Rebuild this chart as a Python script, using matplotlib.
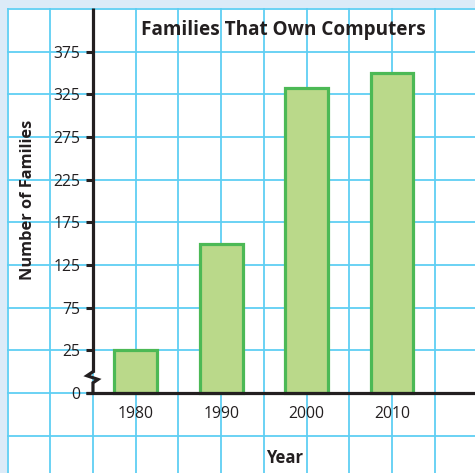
import numpy as np
import matplotlib
matplotlib.use("Agg")
import matplotlib.pyplot as plt

# Data
years = ["1980", "1990", "2000", "2010"]
families = [25, 150, 332, 350]
y_ticks = [0, 25, 75, 125, 175, 225, 275, 325, 375]

title = "Families That Own Computers"
x_label = "Year"
y_label = "Number of Families"

# Styling
GRID = "#5fcff3"
BAR_FACE = "#bad98a"
BAR_EDGE = "#4cb955"
INK = "#231f20"
BORDER = "#dcebf8"
FONT = "Open Sans"

plt.rcParams["font.family"] = [FONT, "DejaVu Sans"]


# Broken y axis: 0..25 takes one grid cell, then 50 per cell above 25
def fwd(v):
    v = np.asarray(v, dtype=float)
    return np.where(v < 25, v / 25.0, 1 + (v - 25) / 50.0)


def inv(p):
    p = np.asarray(p, dtype=float)
    return np.where(p < 1, p * 25.0, 25 + (p - 1) * 50.0)


W, H = 475, 473
fig = plt.figure(figsize=(W / 100, H / 100), dpi=100, facecolor=BORDER)
left_px, top_px = 6.5, 8.0
ax = fig.add_axes([left_px / W, 0, 1 - left_px / W, (H - top_px) / H])
ax.set_facecolor("white")

cell = 42.7
x_left = -2 - 1 / cell
x_right = (W - 93.3) / cell
y_top = 9 + 1 / cell
y_bot = -(H - 393) / cell

ax.set_yscale("function", functions=(fwd, inv))
ax.set_xlim(x_left, x_right)
ax.set_ylim(float(inv(y_bot)), float(inv(y_top)))

# Graph-paper grid, one line per cell
for gx in range(-2, 9):
    ax.axvline(gx, color=GRID, lw=1.3, zorder=0)
for gy in range(-1, 10):
    ax.axhline(float(inv(gy)), color=GRID, lw=1.3, zorder=0)

# Bars, one every two cells
x_pos = [2 * i + 1 for i in range(len(years))]
ax.bar(x_pos, families, width=1.0, color=BAR_FACE, edgecolor=BAR_EDGE,
       linewidth=2.3, zorder=2)

# Axes lines
for s in ["top", "right"]:
    ax.spines[s].set_visible(False)
ax.spines["left"].set_position(("data", 0))
ax.spines["bottom"].set_position(("data", 0))
ax.spines["left"].set_bounds(float(inv(0.5)), float(inv(y_top)))
ax.spines["bottom"].set_bounds(-0.17, x_right)
for s in ["left", "bottom"]:
    ax.spines[s].set_color(INK)
    ax.spines[s].set_linewidth(2.3)
    ax.spines[s].set_zorder(5)
    ax.spines[s].set_capstyle("butt")

# Zigzag break on the y axis between 0 and 25
zx = [0, -0.14, 0.117, 0, 0]
zy = inv([0.5, 0.406, 0.32, 0.24, 0])
ax.plot(zx, zy, color=INK, lw=2.3, zorder=5, solid_joinstyle="miter",
        clip_on=False)

ax.set_yticks(y_ticks)
ax.set_yticklabels([str(t) for t in y_ticks])
ax.yaxis.set_minor_locator(matplotlib.ticker.NullLocator())
ax.tick_params(axis="y", direction="out", length=5, width=2.2, color=INK,
               labelsize=11.3, labelcolor=INK, pad=4)

ax.set_xticks(x_pos)
ax.set_xticklabels(years)
ax.tick_params(axis="x", length=0, labelsize=11.3, labelcolor=INK, pad=9)

fig.text(283 / W, 1 - 30 / H, title, ha="center", va="center",
         fontsize=13.7, fontweight="bold", color=INK)
fig.text(285 / W, 1 - 458 / H, x_label, ha="center", va="center",
         fontsize=12, fontweight="bold", color=INK)
fig.text(28 / W, 1 - 200 / H, y_label, ha="center", va="center",
         rotation=90, fontsize=11.8, fontweight="bold", color=INK)

fig.savefig("out.png", dpi=100, facecolor=BORDER)
